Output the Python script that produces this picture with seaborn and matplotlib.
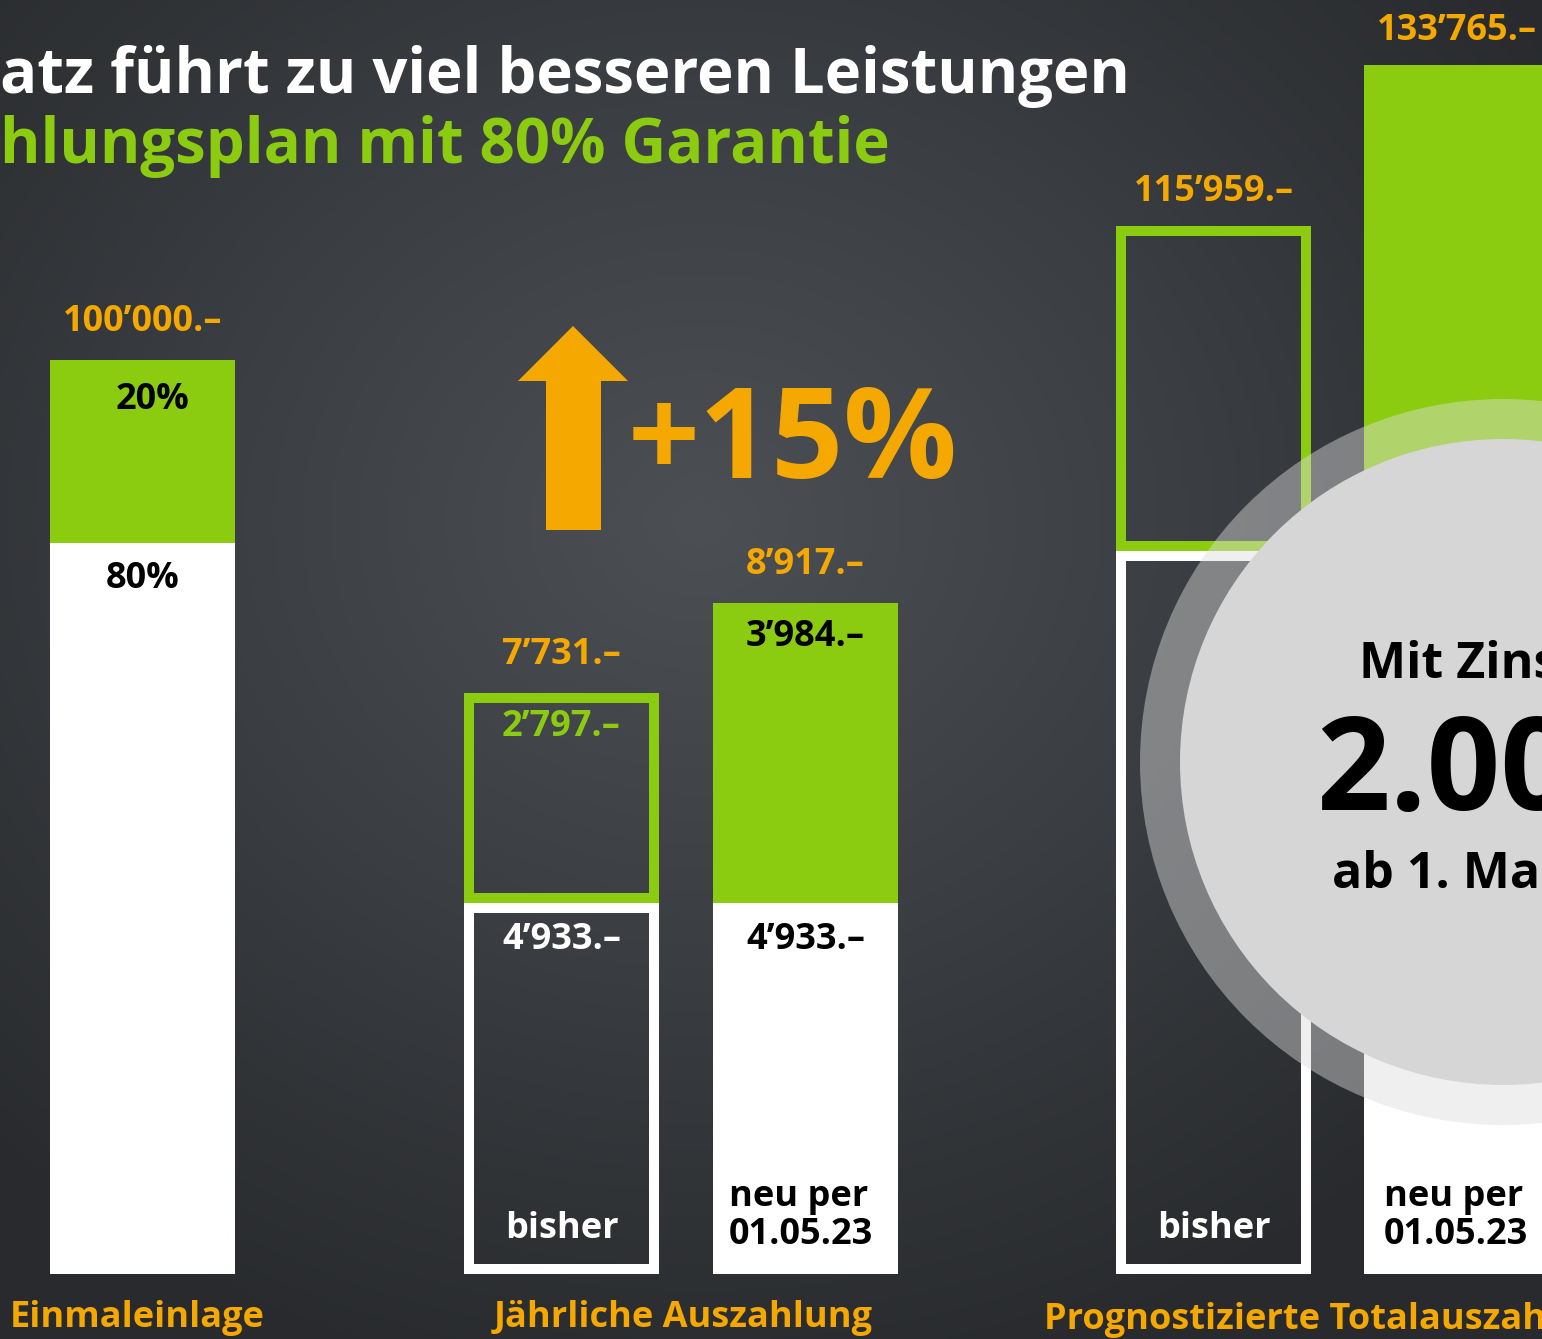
import numpy as np
import seaborn as sns
import matplotlib.pyplot as plt
from matplotlib.patches import Circle, Polygon

# --- data -------------------------------------------------------------
einlage_total = [100000]
einlage_garantie = [80000]          # 80 % garantiert
einlage_top_labels = ['20%']
einlage_base_labels = ['80%']

auszahlung_bars = ['bisher', 'neu per\n01.05.23']
auszahlung_basis = [4933, 4933]
auszahlung_zusatz = [2797, 3984]
auszahlung_total = [7731, 8917]

total_bars = ['bisher', 'neu per\n01.05.23']
total_total = [115959, 133765]
total_garantie = [80000, 80000]

categories = ['Einmaleinlage', 'Jährliche Auszahlung', 'Prognostizierte Totalauszahlung']
title_1 = 'atz führt zu viel besseren Leistungen'
title_2 = 'hlungsplan mit 80% Garantie'
zuwachs = '+15%'
zins_lines = ['Mit Zinssatz', '2.00%', 'ab 1. Mai 2023']

GREEN = '#8ccc10'
ORANGE = '#f5a800'
W, H = 1542, 1339
BASE = 1274      # baseline of all bars, px from top
PT = 72 / 100    # px -> pt


def chf(v):
    return f'{v:,}'.replace(',', '\u2019') + '.\u2013'


def outline(bars):
    # keep the stroke inside the bar, like an inset frame
    for p in bars:
        p.set_clip_path(p)


sns.set_theme(style='dark')
plt.rcParams['font.family'] = ['Open Sans', 'DejaVu Sans']
plt.rcParams['font.weight'] = 'bold'

fig = plt.figure(figsize=(W / 100, H / 100), dpi=100)

# chalkboard background
bg = fig.add_axes([0, 0, 1, 1])
yy, xx = np.mgrid[0:H:4, 0:W:4]
r = np.sqrt(((xx - 700) / W) ** 2 + ((yy - 520) / H) ** 2)
shade = np.clip(1 - r * 1.5, 0, 1)
img = np.empty(shade.shape + (3,))
for k, (lo, hi) in enumerate([(40, 76), (42, 80), (45, 85)]):
    img[..., k] = (lo + (hi - lo) * shade) / 255
bg.imshow(img, extent=(0, W, H, 0), aspect='auto')
bg.set_xlim(0, W)
bg.set_ylim(H, 0)
bg.axis('off')


def group_ax(center0, n, px_per, ymax, unit=244):
    left = center0 - unit / 2
    ax = fig.add_axes([left / W, 1 - BASE / H, unit * n / W, ymax * px_per / H])
    ax.set_xlim(-0.5, n - 0.5)
    ax.set_ylim(0, ymax)
    ax.set_facecolor('none')
    ax.axis('off')
    return ax


BW = 185 / 244
OW = 195 / 244
LW = 20 * PT
lab = dict(fontsize=26, fontweight='bold', ha='center', va='center',
           textcoords='offset points')

# --- Einmaleinlage ----------------------------------------------------
ax1 = group_ax(142.5, 1, 0.00914, 135000)
x1 = np.arange(len(einlage_total))
top1 = [t - g for t, g in zip(einlage_total, einlage_garantie)]
ax1.bar(x1, einlage_garantie, width=BW, color='white', linewidth=0)
ax1.bar(x1, top1, bottom=einlage_garantie, width=BW, color=GREEN, linewidth=0)
for i in x1:
    ax1.annotate(chf(einlage_total[i]), (i, einlage_total[i]), xytext=(0, 38 * PT), color=ORANGE, **lab)
    ax1.annotate(einlage_top_labels[i], (i + 0.04, einlage_total[i]), xytext=(0, -40 * PT), color='black', **lab)
    ax1.annotate(einlage_base_labels[i], (i, einlage_garantie[i]), xytext=(0, -36 * PT), color='black', **lab)
ax1.annotate(categories[0], (0, 0), xytext=(-4, -44 * PT), color=ORANGE, **lab)

# --- Jährliche Auszahlung ---------------------------------------------
ax2 = group_ax(561.5, 2, 0.0752, 12000)
x2 = np.arange(len(auszahlung_bars))
# bisher: outlined, neu: filled
outline(ax2.bar(x2[:1], auszahlung_basis[:1], width=OW, facecolor='none',
                edgecolor='white', linewidth=LW))
outline(ax2.bar(x2[:1], auszahlung_zusatz[:1], bottom=auszahlung_basis[:1], width=OW,
                facecolor='none', edgecolor=GREEN, linewidth=LW))
ax2.bar(x2[1:], auszahlung_basis[1:], width=BW, color='white', linewidth=0)
ax2.bar(x2[1:], auszahlung_zusatz[1:], bottom=auszahlung_basis[1:], width=BW,
        color=GREEN, linewidth=0)
inner_col = [(GREEN, 'white'), ('black', 'black')]
for i in x2:
    top = auszahlung_basis[i] + auszahlung_zusatz[i]
    ax2.annotate(chf(auszahlung_total[i]), (i, top), xytext=(0, 38 * PT), color=ORANGE, **lab)
    ax2.annotate(chf(auszahlung_zusatz[i]), (i, top), xytext=(0, -34 * PT), color=inner_col[i][0], **lab)
    ax2.annotate(chf(auszahlung_basis[i]), (i, auszahlung_basis[i]), xytext=(0, -37 * PT),
                 color=inner_col[i][1], **lab)
ax2.annotate(auszahlung_bars[0], (0, 0), xytext=(0, 45 * PT), color='white', **lab)
ax2.annotate(auszahlung_bars[1], (1 - BW / 2, 0), xytext=(16 * PT, 58 * PT), color='black',
             fontsize=26, fontweight='bold', ha='left', va='center', linespacing=1.1,
             textcoords='offset points')
ax2.annotate(categories[1], (0.5, 0), xytext=(0, -44 * PT), color=ORANGE, **lab)

# --- Prognostizierte Totalauszahlung ----------------------------------
ax3 = group_ax(1213.5, 2, 0.00904, 140000, unit=243)
x3 = np.arange(len(total_bars))
top3 = [t - g for t, g in zip(total_total, total_garantie)]
outline(ax3.bar(x3[:1], total_garantie[:1], width=195 / 243, facecolor='none',
                edgecolor='white', linewidth=LW))
outline(ax3.bar(x3[:1], top3[:1], bottom=total_garantie[:1], width=195 / 243,
                facecolor='none', edgecolor=GREEN, linewidth=LW))
ax3.bar(x3[1:], total_garantie[1:], width=185 / 243, color='white', linewidth=0)
ax3.bar(x3[1:], top3[1:], bottom=total_garantie[1:], width=185 / 243, color=GREEN, linewidth=0)
for i in x3:
    ax3.annotate(chf(total_total[i]), (i, total_total[i]), xytext=(0, 34 * PT), color=ORANGE, **lab)
ax3.annotate(total_bars[0], (0, 0), xytext=(0, 45 * PT), color='white', **lab)
ax3.annotate(total_bars[1], (1 - 185 / 243 / 2, 0), xytext=(20 * PT, 58 * PT), color='black',
             fontsize=26, fontweight='bold', ha='left', va='center', linespacing=1.1,
             textcoords='offset points')
ax3.annotate(categories[2], (0.5, 0), xytext=(0, -46 * PT), color=ORANGE, **lab)

# --- overlay: title, arrow, rate badge --------------------------------
ov = fig.add_axes([0, 0, 1, 1])
ov.set_xlim(0, W)
ov.set_ylim(H, 0)
ov.set_facecolor('none')
ov.axis('off')

ov.text(0, 93, title_1, color='white', fontsize=44.4, fontweight='bold', va='baseline', ha='left')
ov.text(0, 163, title_2, color=GREEN, fontsize=44.4, fontweight='bold', va='baseline', ha='left')

ov.add_patch(Polygon([(546, 530), (546, 381), (518, 381), (573, 326), (628, 381),
                      (601, 381), (601, 530)], closed=True, color=ORANGE, lw=0))
ov.text(628, 478, zuwachs, color=ORANGE, fontsize=91, fontweight='bold', va='baseline', ha='left')

cx, cy = 1503, 762
ov.add_patch(Circle((cx, cy), 363, facecolor='#dcdcdc', alpha=0.45, lw=0))
ov.add_patch(Circle((cx, cy), 323, facecolor='#d6d6d6', lw=0))
ov.text(cx + 6, 678, zins_lines[0], color='black', fontsize=36, fontweight='bold', ha='center', va='baseline')
ov.text(cx, 810, zins_lines[1], color='black', fontsize=93, fontweight='bold', ha='center', va='baseline')
ov.text(cx + 4, 888, zins_lines[2], color='black', fontsize=36, fontweight='bold', ha='center', va='baseline')

fig.savefig('out.png', dpi=100)
